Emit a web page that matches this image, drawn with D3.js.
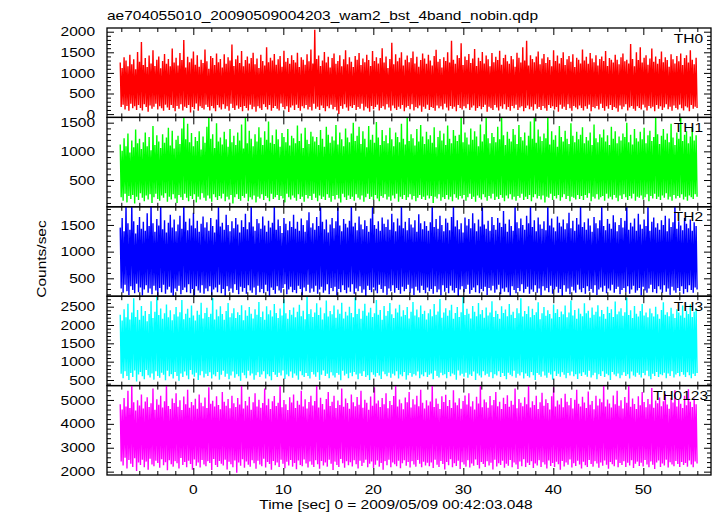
<!DOCTYPE html>
<html><head><meta charset="utf-8">
<script src="https://cdn.jsdelivr.net/npm/d3@7"></script>
<style>body{margin:0;background:#fff} text{font-family:"Liberation Sans",Arial,Helvetica,sans-serif;fill:#000}</style>
</head><body><svg id="c" width="717" height="516"></svg>
<script>
const titleText = "ae704055010_20090509004203_wam2_bst_4band_nobin.qdp";
const xLabelText = "Time [sec] 0 = 2009/05/09 00:42:03.048";
const yLabelText = "Counts/sec";
const panelNames = ["TH0","TH1","TH2","TH3","TH0123"];
const panelColors = ["#ff0000","#00ff00","#0000ff","#00ffff","#ff00ff"];
const yDomains = [[-80,2090],[33,1592],[165,1840],[347,2786],[1860,5600]];
const yMajorTicks = [[0,500,1000,1500,2000],[500,1000,1500],[500,1000,1500],[500,1000,1500,2000,2500],[2000,3000,4000,5000]];
const yMinorStep = [100,100,100,100,200];
const xMajorTicks = [0,10,20,30,40,50];
const xMinorStep = 2;
const xDomain = [-9.59, 57.52];
const tStart = -8.12, tStep = 0.107;

const th0 = [
1250,170,1120,230,1380,110,1300,200,1160,80,1440,250,1210,140,1330,190,1090,100,1510,220,
1270,150,1750,90,1190,240,1360,170,1140,60,1420,210,1230,130,1550,180,1170,250,1320,110,
1400,190,1110,140,1290,80,1460,230,1220,160,1340,100,1160,220,1590,150,1250,70,1370,200,
1180,130,1480,240,1310,90,1800,180,1130,150,1390,220,1260,40,1350,170,1520,120,1200,260,
1430,80,1150,190,1320,150,1240,110,1570,230,1280,170,1100,90,1410,200,1360,140,1190,70,
1470,220,1260,160,1340,110,1130,240,1450,130,1220,190,1380,80,1300,250,1690,150,1170,100,
1330,210,1420,130,1240,170,1530,70,1160,200,1310,150,1400,90,1230,230,1360,120,1490,180,
1210,60,1350,190,1120,140,1440,100,1290,240,1180,170,1620,110,1260,220,1370,80,1300,150,
1460,200,1200,130,1330,90,1410,260,1150,170,1540,120,1270,190,1360,50,1220,160,1430,210,
1310,100,1250,230,1490,150,1140,80,1380,190,1320,140,1200,220,1450,110,1280,170,1570,90,
1230,250,2050,130,1340,180,1420,100,1170,210,1300,150,1510,70,1250,190,1390,140,1130,230,
1360,120,1470,170,1220,90,1290,0,1430,200,1160,130,1330,240,1550,160,1210,80,1380,190,
1270,150,1140,220,1410,100,1320,170,1480,130,1190,250,1350,90,1260,180,1440,140,1310,60,
1170,200,1530,120,1290,170,1380,230,1230,90,1360,150,1600,190,1250,110,1400,240,1120,160,
1340,80,1730,210,1210,140,1450,100,1280,180,1370,130,1500,220,1180,70,1320,160,1420,200,
1260,120,1360,240,1520,90,1230,170,1390,140,1150,210,1310,60,1470,180,1350,130,1220,230,
1440,100,1300,170,1180,150,1410,80,1560,210,1270,140,1340,190,1130,110,1380,250,1290,160,
1500,90,1250,200,1780,130,1320,180,1220,70,1430,220,1360,150,1720,110,1190,190,1400,140,
1310,240,1460,100,1240,160,1350,210,1580,80,1170,150,1370,190,1290,120,1510,170,1230,230,
1420,60,1330,180,1160,140,1480,100,1260,220,1390,160,1310,90,1540,190,1200,130,1360,240,
1440,110,1280,170,1220,80,1410,200,1330,140,1150,230,1490,100,1370,160,1250,190,1620,70,
1300,150,1780,210,1180,120,1430,180,1340,90,1260,240,1400,130,1520,170,1210,100,1350,200,
1460,140,1240,80,1380,220,1310,150,1160,190,1550,110,1290,170,1420,60,1230,230,1360,130,
1500,180,1190,100,1330,240,1410,140,1270,80,1450,200,1140,160,1370,120,1320,210,1230,150,
1570,90,1300,190,1390,130,1220,230,1480,70,1350,170,1260,140,1430,200,1180,110,1340,250,
1400,150,1290,80,1530,190,1170,130,1360,220,1320,100,1250,170,1440,140,1320,60,1210,210,
1380,120,1470,180,1280,240,1320,90,1230,160,1700,200,1340,130,1160,80,1500,190,1310,150,
1620,110,1250,230,1370,160,1430,90,1200,200,1350,140,1590,180,1270,70,1400,220,1220,130,
1340,190,1520,100,1260,160,1380,240,1310,120,1150,180,1450,80,1330,210,1230,150,1410,110,
1280,230,1470,140,1190,90,1360,190,1430,160,1250,70,1550,220,1320,130,1210,180,1370,150];

const th1 = [
1120,200,1010,140,1230,260,1090,110,1310,220,980,170,1190,240,1070,90,1380,210,1140,150,
1220,270,1040,190,1160,130,1330,230,1090,160,1250,250,1020,100,1440,200,1110,260,1280,170,
1170,140,1060,230,1300,190,1150,270,1240,120,1410,210,1100,160,1360,250,1050,180,1200,100,
1270,240,1130,200,1400,150,1600,260,1210,190,1480,130,1160,220,1320,170,1090,250,1250,110,
1180,210,1350,160,1030,270,1260,190,1150,140,1430,230,1600,180,1220,120,1300,250,1060,200,
1490,150,1170,220,1240,180,1120,260,1340,130,1210,210,1080,160,1390,240,1160,90,1270,200,
1110,250,1330,170,1190,140,1470,220,1050,190,1600,260,1140,130,1360,200,1220,160,1090,230,
1300,110,1170,210,1420,180,1240,250,1110,150,1350,220,1200,190,1520,130,1150,260,1280,170,
1130,200,1380,240,1210,150,1080,220,1320,180,1250,110,1160,260,1390,200,1100,160,1270,230,
1230,190,1140,140,1450,250,1180,170,1310,210,1060,120,1410,240,1200,180,1130,220,1340,150,
1260,260,1170,190,1250,130,1110,230,1370,170,1220,210,1080,150,1430,250,1290,190,1150,120,
1260,220,1190,160,1460,240,1120,180,1330,110,1210,260,1090,200,1400,150,1240,230,1160,170,
1310,210,1500,140,1180,250,1270,190,1430,160,1130,230,1350,120,1220,200,1070,260,1440,170,
1200,210,1290,150,1150,240,1510,180,1240,130,1110,220,1370,190,1180,250,1280,160,1140,210,
1410,140,1210,230,1090,180,1330,260,1250,120,1160,210,1480,170,1220,240,1120,150,1600,200,
1180,250,1300,160,1230,220,1100,130,1390,190,1170,240,1460,170,1260,210,1130,150,1340,230,
1210,180,1280,220,1150,100,1420,210,1070,180,1250,250,1360,140,1190,200,1310,170,1110,240,
1450,160,1220,210,1140,130,1370,250,1270,190,1180,160,1290,220,1600,180,1160,240,1330,140,
1240,200,1120,260,1400,170,1200,210,1350,120,1260,230,1090,190,1470,160,1170,250,1300,200,
1600,140,1230,220,1140,180,1320,260,1250,150,1160,210,1430,170,1210,240,1600,190,1280,130,
1110,230,1340,180,1220,250,1170,160,1390,210,1290,140,1130,220,1460,190,1250,260,1190,150,
1330,210,1100,170,1270,240,1520,130,1220,200,1600,250,1150,180,1380,220,1260,160,1180,230,
1310,110,1230,210,1600,190,1120,260,1350,150,1200,220,1280,180,1080,240,1440,140,1250,200,
1170,250,1360,170,1220,220,1130,130,1490,210,1270,190,1160,160,1340,240,1210,170,1290,220,
1420,150,1140,240,1250,190,1190,270,1330,130,1110,210,1470,180,1230,250,1160,160,1300,200,
1240,220,1380,140,1170,260,1280,180,1110,210,1430,160,1220,240,1350,190,1140,130,1260,230,
1190,170,1310,250,1250,200,1500,150,1160,220,1290,180,1120,260,1390,140,1230,210,1170,190,
1340,230,1210,160,1410,200,1140,250,1280,130,1360,220,1180,180,1250,260,1600,170,1300,210,
1130,150,1270,230,1390,190,1200,270,1310,160,1160,210,1480,140,1240,240,1110,180,1330,220,
1220,190,1600,250,1180,160,1290,210,1350,140,1140,230,1260,200,1410,170,1190,250,1280,210];

const th2 = [
1450,310,1630,230,1380,380,1860,260,1530,190,1410,350,1900,280,1570,220,1340,400,1500,240,
1650,330,1430,180,1560,290,1390,370,1720,230,1480,310,1880,200,1530,360,1370,270,1610,150,
1490,320,1890,240,1420,380,1590,210,1360,290,1540,340,1690,230,1450,120,1600,310,1380,260,
1510,360,1670,200,1430,280,1930,330,1560,240,1400,390,1620,220,1490,300,1730,180,1440,350,
1580,270,1370,230,1520,370,1660,210,1450,310,1550,260,1390,350,1630,190,1480,290,1360,330,
1600,240,1850,380,1470,220,1540,300,1410,170,1690,350,1500,260,1380,310,1570,230,1440,390,
1630,280,1510,200,1360,340,1590,250,1460,320,1710,210,1420,370,1550,270,1900,230,1470,330,
1390,190,1610,360,1530,240,1430,300,1660,220,1490,380,1370,260,1580,150,1450,330,1540,280,
1880,210,1410,350,1600,270,1480,230,1350,320,1630,390,1520,200,1400,290,1570,340,1460,240,
1690,280,1430,220,1560,360,1390,300,1620,180,1500,330,1370,260,1590,380,1740,230,1450,310,
1530,250,1410,360,1650,210,1480,290,1860,340,1560,230,1420,270,1600,390,1360,200,1510,320,
1630,260,1440,340,1570,180,1870,300,1490,240,1380,370,1610,280,1520,220,1450,330,1580,250,
1890,390,1470,210,1540,310,1400,260,1660,350,1510,230,1420,290,1590,170,1480,360,1370,280,
1620,240,1860,330,1500,270,1430,220,1570,380,1390,300,1640,230,1520,350,1460,190,1600,310,
1410,260,1710,370,1550,230,1380,320,1620,280,1490,210,1880,340,1440,260,1560,300,1400,380,
1630,230,1510,310,1450,190,1590,340,1370,270,1700,230,1530,360,1420,280,1570,220,1480,330,
1390,260,1550,300,1910,210,1460,350,1610,240,1430,290,1670,180,1500,370,1380,250,1620,320,
1540,220,1400,360,1650,270,1870,230,1470,320,1590,140,1420,290,1530,350,1360,240,1640,300,
1490,380,1610,210,1440,280,1720,330,1530,240,1380,370,1600,220,1470,300,1900,260,1510,340,
1430,190,1580,320,1390,270,1650,360,1500,230,1410,290,1630,380,1540,200,1460,310,1760,250,
1520,330,1370,240,1600,170,1480,350,1390,280,1850,220,1550,320,1440,260,1620,390,1500,230,
1410,300,1670,340,1530,210,1890,290,1460,250,1590,370,1380,230,1640,310,1510,180,1430,350,
1570,270,1400,320,1910,240,1490,360,1620,210,1450,290,1380,340,1660,230,1540,300,1470,160,
1600,370,1420,250,1530,310,1730,200,1440,340,1580,270,1390,230,1630,380,1510,290,1880,240,
1460,320,1550,210,1410,350,1620,260,1490,300,1370,230,1650,370,1530,190,1440,290,1590,330,
1860,250,1480,360,1400,220,1610,310,1520,270,1430,380,1680,230,1550,300,1380,340,1500,200,
1630,280,1450,320,1580,240,1900,350,1410,210,1540,290,1470,360,1620,230,1390,270,1710,320,
1510,180,1430,340,1600,270,1480,230,1870,310,1390,380,1560,240,1640,300,1450,220,1530,350,
1410,290,1590,230,1500,370,1670,250,1380,310,1620,190,1460,340,1550,270,1890,230,1430,320,
1570,260,1490,350,1400,210,1630,300,1520,240,1440,370,1600,280,1390,230,1550,330,1480,290];

const th3 = [
2280,670,2120,550,2430,740,2210,610,2580,500,2150,690,2340,580,2730,760,2220,460,2410,650,
2140,720,2520,600,2250,520,2380,770,2100,630,2300,570,2650,680,2190,510,2360,740,2780,610,
2270,560,2450,700,2170,640,2320,490,2560,750,2210,600,2400,660,2130,540,2290,720,2490,610,
2230,480,2350,680,2680,580,2160,730,2310,620,2440,520,2200,770,2530,650,2260,590,2120,700,
2390,500,2280,630,2610,740,2180,570,2330,670,2470,610,2220,710,2310,540,2740,650,2150,600,
2420,720,2240,510,2510,640,2300,750,2140,590,2380,670,2600,520,2210,620,2320,730,2460,560,
2190,660,2350,600,2270,480,2540,700,2130,630,2400,550,2250,750,2490,620,2310,680,2180,510,
2430,630,2280,710,2630,580,2220,650,2370,740,2140,540,2510,660,2290,600,2400,490,2230,720,
2570,640,2330,580,2190,700,2450,620,2260,760,2700,530,2320,650,2170,600,2410,730,2280,560,
2480,680,2210,620,2360,510,2550,740,2240,630,2390,580,2160,690,2780,610,2300,540,2430,720,
2220,650,2340,590,2590,710,2270,500,2480,640,2150,760,2320,610,2670,670,2230,550,2380,710,
2290,620,2530,570,2200,690,2420,640,2310,490,2610,750,2180,620,2360,670,2260,550,2500,700,
2330,600,2210,720,2750,650,2300,520,2440,680,2170,610,2390,740,2580,580,2250,630,2340,500,
2470,710,2220,640,2320,590,2680,690,2280,620,2410,530,2140,730,2520,660,2250,600,2380,700,
2600,560,2290,670,2190,620,2450,740,2340,540,2550,650,2230,600,2400,720,2270,510,2490,630,
2180,690,2360,590,2630,660,2260,620,2420,730,2210,550,2530,650,2300,600,2390,710,2150,580,
2320,640,2430,680,2240,520,2570,750,2280,610,2370,570,2710,700,2200,630,2340,660,2460,550,
2250,720,2400,600,2550,680,2170,640,2330,510,2490,760,2220,620,2350,670,2780,590,2270,700,
2440,560,2310,650,2180,610,2520,730,2360,500,2240,680,2600,620,2290,570,2410,740,2200,630,
2480,670,2260,590,2340,710,2650,550,2220,660,2390,620,2300,740,2170,580,2510,690,2330,610,
2420,520,2240,700,2570,640,2280,600,2360,750,2190,560,2460,670,2320,620,2730,710,2230,540,
2380,680,2300,610,2510,570,2210,720,2440,630,2270,500,2350,690,2620,640,2160,590,2320,730,
2490,620,2250,560,2400,700,2300,650,2180,510,2560,740,2330,610,2430,670,2220,590,2370,710,
2290,640,2530,550,2210,690,2340,620,2670,730,2260,600,2410,660,2170,530,2450,680,2310,610,
2240,710,2590,640,2320,590,2390,750,2200,570,2480,630,2280,700,2360,520,2540,660,2230,610,
2410,740,2300,580,2170,670,2500,630,2330,500,2430,720,2220,650,2640,600,2290,680,2370,550,
2460,630,2250,710,2350,610,2750,660,2270,540,2400,730,2190,620,2520,590,2310,700,2230,640,
2380,570,2570,690,2260,630,2340,750,2210,600,2450,520,2320,670,2230,610,2500,720,2290,580,
2170,660,2410,630,2620,700,2280,550,2350,680,2240,610,2470,740,2310,570,2190,650,2430,690,
2340,600,2260,720,2530,640,2200,580,2390,710,2300,630,2560,550,2220,670,2360,610,2450,690];

const th0123 = [
4820,2430,4600,2260,5080,2580,4730,2130,5380,2490,4660,2330,5630,2200,4900,2560,4560,2030,4990,2380,
4770,2280,5230,2500,4640,2180,4930,2420,5110,2080,4700,2540,4860,2300,5480,2230,4590,2460,5030,2360,
4800,2160,5170,2520,4680,2270,4950,2390,5650,2060,4750,2480,4620,2310,5060,2210,4870,2440,5280,2350,
4710,2130,4990,2570,4580,2280,5140,2400,4820,2180,5430,2460,4670,2320,4910,2080,4780,2510,5050,2250,
4630,2380,5230,2170,4880,2490,4740,2300,5100,2230,4660,2440,5530,2360,4840,2070,4970,2530,4720,2280,
5150,2190,4790,2450,4610,2330,5330,2260,4920,2500,4760,2090,5040,2410,4650,2310,5180,2180,4860,2470,
4700,1950,5080,2380,4810,2250,5600,2520,4640,2160,4960,2430,4770,2290,5130,2210,4590,2480,4900,2350,
5280,2120,4730,2460,5010,2300,4670,2230,4870,2540,5480,2170,4780,2400,5050,2320,4620,2080,4940,2450,
5160,2270,4750,2380,4880,2190,5580,2500,4690,2330,5000,2140,4820,2420,4580,2260,5110,2490,4890,2210,
5230,2360,4660,2100,4970,2470,4800,2280,5380,2230,4720,2510,5030,2340,4640,2170,4910,2430,5180,2290,
4770,2190,4960,2480,5630,2310,4680,2120,5090,2450,4830,2260,4600,2380,5040,2210,5330,2500,4750,2330,
4920,2070,5170,2420,4660,2280,4980,2190,4790,2530,5480,2350,4710,2160,5060,2440,4870,2270,4630,2390,
5230,2220,4900,2480,4740,2310,5120,2130,4800,2460,5380,2240,4670,2370,5010,2500,4880,2180,4590,2330,
5140,2430,4760,2150,5530,2290,4850,2470,4980,2210,4700,2360,5080,2080,4820,2440,5280,2270,4650,2500,
4960,2180,4790,2380,5160,2310,5630,2230,4730,2460,5020,2140,4860,2350,4610,2480,5100,2250,4900,2400,
5330,2170,4680,2440,5030,2300,4810,2210,5170,2490,4740,2330,5430,2180,4880,2420,4640,2260,4990,2370,
4770,2230,4930,2380,5650,2150,4700,2500,5060,2290,4840,2200,4620,2450,5150,2320,4910,2090,5220,2400,
4750,2270,5000,2520,4660,2180,5400,2350,4890,2240,4780,2460,5070,2110,4630,2390,4960,2300,5190,2210,
4810,2480,5280,2170,4720,2340,4940,2250,4600,2510,5130,2280,4850,2130,5580,2400,4690,2320,5020,2190,
4900,2440,4670,2260,5160,2370,4780,2090,5000,2500,5330,2220,4740,2350,4920,2280,4620,2460,5090,2160,
4830,2330,5200,2250,4710,2490,4970,2180,4800,2380,5480,2300,4650,2110,5040,2430,4880,2230,4740,2520,
5110,2190,4820,2370,5630,2280,4680,2440,4950,2150,4790,2340,5180,2260,4620,2480,4900,2200,5300,2390,
4760,2300,5030,2130,4870,2470,4600,2240,5150,2360,5530,2190,4730,2420,4980,2310,4810,2080,5070,2450,
4690,2220,5260,2380,4920,2290,4780,2510,5080,2170,4640,2350,5010,2240,5430,2460,4840,2300,4720,2130,
5130,2410,4890,2270,4660,2190,5350,2490,4800,2320,4960,2210,4610,2440,5170,2340,4770,2160,5050,2380,
4900,2250,5600,2470,4730,2290,5020,2120,4850,2400,4680,2310,5190,2230,4820,2500,5380,2180,4760,2360,
4990,2280,4640,2440,5120,2200,4880,2370,5650,2260,4710,2480,5060,2150,4830,2330,4620,2420,5150,2240,
4780,2370,5330,2220,4910,2490,4690,2300,5040,2180,4820,2430,5500,2290,4670,2110,4980,2380,4860,2470,
5100,2200,4740,2340,4950,2260,5250,2500,4810,2170,4630,2390,5080,2300,4890,2230,5400,2450,4720,2320,
5010,2190,4840,2400,4660,2280,5170,2360,4780,2210,5450,2470,4920,2300,4700,2180,5060,2430,4820,2340];

const seriesData = [th0, th1, th2, th3, th0123];

// ---- layout ----
const W = 717, H = 516;
const L = 107, R = 711, TOP = 28, BOT = 475;
const nP = 5, ph = (BOT - TOP) / nP;
const FS = 13, STRETCH = 1.19;

const svg = d3.select("#c");
svg.append("rect").attr("width", W).attr("height", H).attr("fill", "#fff");
const x = d3.scaleLinear().domain(xDomain).range([L, R]);

function stretch(sel, k) {
  sel.each(function () {
    const w = this.getComputedTextLength();
    this.setAttribute("textLength", w * k);
    this.setAttribute("lengthAdjust", "spacingAndGlyphs");
  });
}

const xMinor = d3.range(Math.ceil(xDomain[0] / xMinorStep) * xMinorStep, xDomain[1], xMinorStep).filter(v => !xMajorTicks.includes(v));

seriesData.forEach((data, i) => {
  const top = TOP + i * ph, bot = top + ph;
  const y = d3.scaleLinear().domain(yDomains[i]).range([bot, top]);
  const clipId = "clip" + i;
  svg.append("clipPath").attr("id", clipId).append("rect")
    .attr("x", L).attr("y", top).attr("width", R - L).attr("height", ph);
  const line = d3.line().x((d, j) => x(tStart + j * tStep)).y(d => y(d));
  svg.append("path").datum(data).attr("clip-path", `url(#${clipId})`)
    .attr("d", line).attr("fill", "none").attr("stroke", panelColors[i])
    .attr("stroke-width", 1.4).attr("stroke-linejoin", "miter").attr("stroke-miterlimit", 1);

  const yMin = d3.range(Math.ceil(yDomains[i][0] / yMinorStep[i]) * yMinorStep[i], yDomains[i][1], yMinorStep[i])
    .filter(v => !yMajorTicks[i].includes(v));
  const mk = (ax, vals, size, tx, ty) => {
    const a = svg.append("g").attr("transform", `translate(${tx},${ty})`)
      .call(ax.tickValues(vals).tickSize(-size).tickSizeOuter(0).tickFormat(""));
    a.select(".domain").remove();
    a.selectAll("line").attr("stroke", "#000").attr("stroke-width", 1);
  };
  mk(d3.axisLeft(y), yMajorTicks[i], 7, L, 0);
  mk(d3.axisLeft(y), yMin, 4, L, 0);
  mk(d3.axisRight(y), yMajorTicks[i], 7, R, 0);
  mk(d3.axisRight(y), yMin, 4, R, 0);
  mk(d3.axisTop(x), xMajorTicks, 7, 0, top);
  mk(d3.axisTop(x), xMinor, 4, 0, top);
  mk(d3.axisBottom(x), xMajorTicks, 7, 0, bot);
  mk(d3.axisBottom(x), xMinor, 4, 0, bot);

  svg.append("rect").attr("x", L).attr("y", top).attr("width", R - L).attr("height", ph)
    .attr("fill", "none").attr("stroke", "#000").attr("stroke-width", 1.3);

  const yl = svg.append("g").selectAll("text").data(yMajorTicks[i]).join("text")
    .attr("x", 95).attr("y", d => y(d) + 4.6).attr("text-anchor", "end")
    .attr("font-size", FS).text(d => d);
  stretch(yl, STRETCH);

  const pn = svg.append("text").attr("x", i === 4 ? 708 : 703).attr("y", top + 14.5)
    .attr("text-anchor", "end").attr("font-size", FS).text(panelNames[i]);
  stretch(pn, STRETCH);
});

const xl = svg.append("g").selectAll("text").data(xMajorTicks).join("text")
  .attr("x", d => x(d)).attr("y", 494).attr("text-anchor", "middle")
  .attr("font-size", FS).text(d => d);
stretch(xl, STRETCH);

const tt = svg.append("text").attr("x", 107).attr("y", 20).attr("font-size", FS).text(titleText);
stretch(tt, STRETCH);
const xt = svg.append("text").attr("x", 396).attr("y", 508.5).attr("text-anchor", "middle")
  .attr("font-size", FS).text(xLabelText);
stretch(xt, STRETCH);
const yt = svg.append("text").attr("transform", "translate(46,259) rotate(-90)")
  .attr("text-anchor", "middle").attr("font-size", FS).text(yLabelText);
stretch(yt, STRETCH);
</script></body></html>
